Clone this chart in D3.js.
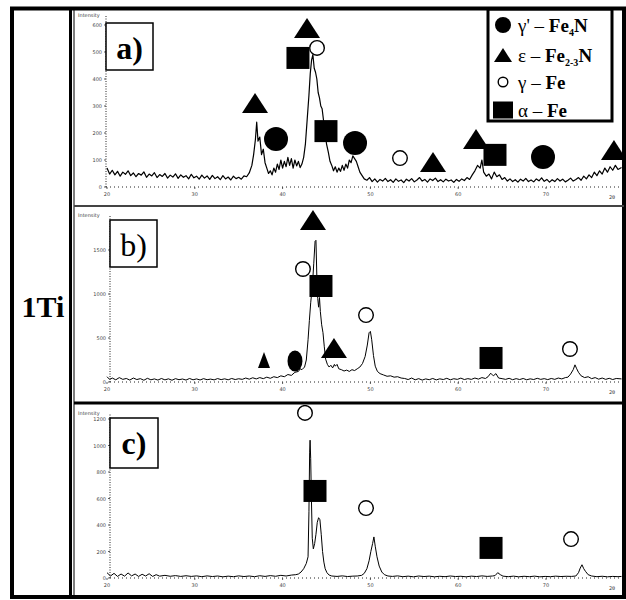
<!DOCTYPE html>
<html>
<head>
<meta charset="utf-8">
<script src="https://cdn.jsdelivr.net/npm/d3@7"></script>
<style>
  html, body { margin: 0; padding: 0; background: #fff; }
  svg { display: block; }
</style>
</head>
<body>
<svg id="chart" width="626" height="600"></svg>
<script>
// ---- axis ticks -------------------------------------------------------
const twoThetaTicks = [20, 30, 40, 50, 60, 70];
const ticksA = [0, 100, 200, 300, 400, 500, 600];
const ticksB = [0, 500, 1000, 1500];
const ticksC = [0, 200, 400, 600, 800, 1000, 1200];

// ---- diffraction patterns: [2θ (deg), intensity (counts)] -------------
const patternA = [
  [20.0,70],[20.3,48],[20.6,62],[20.9,45],[21.2,58],[21.5,40],[21.8,55],[22.1,47],[22.4,60],[22.7,42],
  [23.0,52],[23.3,38],[23.6,50],[23.9,44],[24.2,56],[24.5,36],[24.8,48],[25.1,41],[25.4,53],[25.7,35],
  [26.0,46],[26.3,39],[26.6,50],[26.9,33],[27.2,44],[27.5,37],[27.8,49],[28.1,32],[28.4,45],[28.7,36],
  [29.0,42],[29.3,30],[29.6,47],[29.9,34],[30.2,40],[30.5,29],[30.8,44],[31.1,33],[31.4,41],[31.7,28],
  [32.0,43],[32.3,31],[32.6,38],[32.9,27],[33.2,42],[33.5,30],[33.8,37],[34.1,26],[34.4,40],[34.7,31],
  [35.0,36],[35.3,29],[35.6,41],[35.9,38],[36.2,52],[36.5,80],[36.7,120],[36.9,175],[37.05,240],[37.2,170],
  [37.4,185],[37.6,120],[37.8,140],[38.0,90],[38.2,70],[38.4,50],[38.6,60],[38.8,45],[39.0,70],[39.2,55],
  [39.4,85],[39.6,65],[39.8,100],[40.0,70],[40.2,95],[40.4,75],[40.6,110],[40.8,80],[41.0,105],[41.2,70],
  [41.4,100],[41.6,78],[41.8,95],[42.0,72],[42.2,85],[42.4,110],[42.6,160],[42.8,250],[43.0,340],[43.15,420],
  [43.3,470],[43.45,490],[43.6,440],[43.75,425],[43.9,400],[44.05,350],[44.2,330],[44.35,300],[44.5,290],[44.65,250],
  [44.8,215],[45.0,160],[45.2,130],[45.4,95],[45.6,80],[45.8,60],[46.0,75],[46.2,55],[46.4,70],[46.6,58],
  [46.8,80],[47.0,62],[47.2,85],[47.4,70],[47.6,100],[47.8,90],[48.0,115],[48.2,105],[48.4,95],[48.6,75],
  [48.8,55],[49.0,45],[49.3,30],[49.6,25],[49.9,35],[50.2,20],[50.5,30],[50.8,18],[51.1,28],[51.4,22],
  [51.7,32],[52.0,20],[52.3,27],[52.6,17],[52.9,30],[53.2,21],[53.5,26],[53.8,16],[54.1,29],[54.4,22],
  [54.7,31],[55.0,19],[55.3,26],[55.6,35],[55.9,22],[56.2,28],[56.5,18],[56.8,30],[57.1,24],[57.4,33],
  [57.7,20],[58.0,27],[58.3,19],[58.6,29],[58.9,22],[59.2,26],[59.5,17],[59.8,28],[60.1,21],[60.4,30],
  [60.7,24],[61.0,35],[61.3,28],[61.6,45],[61.9,60],[62.2,80],[62.5,70],[62.7,100],[62.9,55],[63.2,40],
  [63.5,48],[63.8,30],[64.1,55],[64.4,38],[64.7,45],[65.0,28],[65.3,35],[65.6,22],[65.9,30],[66.2,20],
  [66.5,27],[66.8,18],[67.1,29],[67.4,22],[67.7,32],[68.0,20],[68.3,26],[68.6,19],[68.9,30],[69.2,23],
  [69.5,34],[69.8,21],[70.1,28],[70.4,18],[70.7,27],[71.0,20],[71.3,31],[71.6,22],[71.9,29],[72.2,19],
  [72.5,25],[72.8,33],[73.1,22],[73.4,28],[73.7,35],[74.0,25],[74.3,40],[74.6,30],[74.9,45],[75.2,35],
  [75.5,55],[75.8,42],[76.1,60],[76.4,48],[76.7,70],[77.0,55],[77.3,75],[77.6,62],[77.9,80],[78.2,65],
  [78.6,72]
];

const patternB = [
  [20.0,60],[20.3,30],[20.6,45],[21.0,25],[21.4,50],[21.8,30],[22.2,40],[22.6,22],[23.0,45],[23.4,28],
  [23.8,38],[24.2,20],[24.6,42],[25.0,25],[25.4,35],[25.8,22],[26.2,40],[26.6,24],[27.0,36],[27.4,20],
  [27.8,38],[28.2,26],[28.6,34],[29.0,22],[29.4,40],[29.8,25],[30.2,35],[30.6,23],[31.0,38],[31.4,26],
  [31.8,33],[32.2,24],[32.6,39],[33.0,27],[33.4,36],[33.8,25],[34.2,40],[34.6,28],[35.0,37],[35.4,30],
  [35.8,45],[36.2,32],[36.6,48],[37.0,35],[37.4,50],[37.8,38],[38.2,55],[38.6,42],[39.0,60],[39.4,50],
  [39.8,70],[40.2,60],[40.6,85],[41.0,75],[41.4,110],[41.8,120],[42.0,150],[42.2,140],[42.5,170],[42.7,250],
  [42.9,480],[43.05,700],[43.2,900],[43.4,1100],[43.55,1350],[43.7,1600],[43.8,1610],[43.9,1200],[44.0,950],[44.1,850],
  [44.2,960],[44.3,800],[44.45,650],[44.6,560],[44.75,400],[44.9,260],[45.1,200],[45.3,170],[45.5,190],[45.7,160],
  [45.9,200],[46.0,180],[46.2,200],[46.4,150],[46.7,140],[47.0,125],[47.3,135],[47.6,120],[47.9,140],[48.2,130],
  [48.5,150],[48.8,170],[49.1,210],[49.4,290],[49.65,420],[49.85,560],[50.0,575],[50.15,480],[50.35,300],[50.55,180],
  [50.8,120],[51.1,95],[51.5,80],[51.9,65],[52.3,70],[52.7,55],[53.1,60],[53.5,45],[53.9,40],[54.3,28],
  [54.7,45],[55.1,25],[55.5,38],[55.9,22],[56.3,35],[56.7,26],[57.1,40],[57.5,24],[57.9,36],[58.3,28],
  [58.7,42],[59.1,25],[59.5,37],[59.9,30],[60.3,44],[60.7,28],[61.1,38],[61.5,30],[61.9,45],[62.3,33],
  [62.7,50],[63.1,40],[63.4,60],[63.7,100],[64.0,70],[64.3,95],[64.6,45],[65.0,38],[65.4,30],[65.8,42],
  [66.2,26],[66.6,38],[67.0,28],[67.4,40],[67.8,25],[68.2,36],[68.6,28],[69.0,42],[69.4,30],[69.8,38],
  [70.2,27],[70.6,40],[71.0,30],[71.4,45],[71.8,35],[72.2,50],[72.5,55],[72.8,90],[73.1,140],[73.3,195],
  [73.5,150],[73.7,110],[74.0,70],[74.4,50],[74.8,60],[75.2,38],[75.6,50],[76.0,32],[76.4,45],[76.8,30],
  [77.2,42],[77.6,28],[78.0,40],[78.6,35]
];

const patternC = [
  [20.0,40],[20.4,15],[20.8,35],[21.2,12],[21.6,30],[22.0,14],[22.4,38],[22.8,16],[23.2,30],[23.6,12],
  [24.0,28],[24.4,15],[24.8,32],[25.2,12],[25.6,25],[26.0,14],[26.6,20],[27.2,13],[27.8,18],[28.4,12],
  [29.0,17],[29.6,12],[30.2,16],[30.8,10],[31.4,16],[32.0,11],[32.6,15],[33.2,9],[33.8,14],[34.4,10],
  [35.0,16],[35.6,11],[36.2,15],[36.8,10],[37.4,17],[38.0,12],[38.6,18],[39.2,13],[39.8,20],[40.4,15],
  [41.0,22],[41.5,25],[41.8,30],[42.1,45],[42.4,70],[42.7,110],[42.9,160],[43.0,500],[43.08,950],[43.13,1040],
  [43.2,900],[43.28,600],[43.38,300],[43.5,220],[43.65,260],[43.8,330],[43.95,420],[44.1,455],[44.25,440],[44.4,330],
  [44.55,200],[44.7,120],[44.85,70],[45.05,40],[45.3,22],[45.6,15],[46.2,12],[46.8,16],[47.4,11],[48.0,14],
  [48.5,15],[49.0,20],[49.3,35],[49.6,70],[49.85,130],[50.05,200],[50.25,260],[50.4,310],[50.55,240],[50.75,160],
  [51.0,90],[51.3,45],[51.6,25],[52.0,15],[52.5,12],[53.1,16],[53.7,10],[54.3,14],[54.9,9],[55.5,15],
  [56.1,11],[56.7,14],[57.3,9],[57.9,13],[58.5,10],[59.1,15],[59.7,11],[60.3,13],[60.9,9],[61.5,14],
  [62.1,11],[62.7,16],[63.3,12],[63.9,15],[64.2,18],[64.5,40],[64.8,25],[65.1,14],[65.7,10],[66.3,14],
  [66.9,9],[67.5,13],[68.1,10],[68.7,14],[69.3,9],[69.9,12],[70.5,10],[71.1,14],[71.7,11],[72.3,13],
  [72.9,12],[73.4,15],[73.7,40],[73.9,75],[74.1,100],[74.3,70],[74.5,50],[74.8,25],[75.2,15],[75.8,10],
  [76.4,13],[77.0,9],[77.6,12],[78.2,10],[78.6,12]
];

// ---- phase markers: [phase, 2θ, intensity] -----------------------------
// phases: gp = γ'-Fe4N, eps = ε-Fe2-3N, gam = γ-Fe, alp = α-Fe
const markersA = [
  ["eps",42.78,589],["alp",41.75,478],["gam",43.92,515],["eps",36.86,311],
  ["gp",39.25,178],["alp",44.94,207],["gp",48.25,163],["gam",53.37,107],
  ["eps",57.13,93],["eps",62.03,178],["alp",64.19,119],["gp",69.66,111],["eps",77.74,137]
];
const markersB = [
  ["eps",37.88,250],["gp",41.41,239],["eps",43.46,1840],["gam",42.32,1284],
  ["alp",44.37,1091],["eps",45.85,386],["gam",49.5,761],["alp",63.74,273],["gam",72.73,375]
];
const markersC = [
  ["gam",42.55,1246],["alp",43.69,657],["gam",49.5,528],["alp",63.74,227],["gam",72.85,294]
];

// ---- legend ------------------------------------------------------------
const legendPhases = ["gp", "eps", "gam", "alp"];
const sampleLabel = "1Ti";
const panelLabels = ["a)", "b)", "c)"];

// ---------------------------------------------------------------------
const svg = d3.select("#chart");
const W = 626, H = 600;
const serif = "'Liberation Serif', 'DejaVu Serif', serif";
const tiny = "'DejaVu Sans', sans-serif";

const x = d3.scaleLinear().domain([20, 70]).range([107, 546]);

const panels = [
  { data: patternA, marks: markersA, ticks: ticksA, base: 187, topY: 25, axisTop: 15,
    axisX: 106, clip: [74, 10, 548, 195], label: panelLabels[0], box: [106, 23, 47, 47],
    weight: "bold", tickY: 196, lw: 1.2, sizes: {} },
  { data: patternB, marks: markersB, ticks: ticksB, base: 382, topY: 250, axisTop: 215,
    axisX: 110, clip: [74, 207, 548, 196], label: panelLabels[1], box: [110, 220, 47, 47],
    weight: "normal", tickY: 391, lw: 1, sizes: { 0: [12, 16], 1: [15, 21] } },
  { data: patternC, marks: markersC, ticks: ticksC, base: 578, topY: 419, axisTop: 413,
    axisX: 110, clip: [74, 405, 548, 190], label: panelLabels[2], box: [110, 418, 48, 50],
    weight: "bold", tickY: 587, lw: 1, sizes: {} }
];

const defaultSize = { eps: [26, 20], alp: [23, 22], gp: [24, 24], gam: [16, 16] };

function drawMarker(g, phase, cx, cy, size) {
  const [w, h] = size;
  if (phase === "eps") {
    g.append("path")
      .attr("d", `M${cx},${cy - h / 2}L${cx + w / 2},${cy + h / 2}L${cx - w / 2},${cy + h / 2}Z`)
      .attr("fill", "#000");
  } else if (phase === "alp") {
    g.append("rect").attr("x", cx - w / 2).attr("y", cy - h / 2)
      .attr("width", w).attr("height", h).attr("fill", "#000");
  } else if (phase === "gp") {
    g.append("ellipse").attr("cx", cx).attr("cy", cy).attr("rx", w / 2).attr("ry", h / 2)
      .attr("fill", "#000");
  } else {
    g.append("ellipse").attr("cx", cx).attr("cy", cy).attr("rx", w / 2 - 0.7).attr("ry", h / 2 - 0.7)
      .attr("fill", "#fff").attr("stroke", "#000").attr("stroke-width", 1.4);
  }
}

panels.forEach((p, i) => {
  const y = d3.scaleLinear()
    .domain([0, p.ticks[p.ticks.length - 1]])
    .range([p.base, p.topY]);
  const g = svg.append("g");

  const clipId = "clip" + i;
  svg.append("clipPath").attr("id", clipId).append("rect")
    .attr("x", p.clip[0]).attr("y", p.clip[1]).attr("width", p.clip[2]).attr("height", p.clip[3]);

  // y axis: dotted line with small ticks and labels
  g.append("line").attr("x1", p.axisX).attr("x2", p.axisX)
    .attr("y1", p.base).attr("y2", p.axisTop)
    .attr("stroke", "#222").attr("stroke-width", 1).attr("stroke-dasharray", "1,1.5");
  p.ticks.forEach(t => {
    g.append("line").attr("x1", p.axisX - 2).attr("x2", p.axisX)
      .attr("y1", y(t)).attr("y2", y(t)).attr("stroke", "#333").attr("stroke-width", 0.8);
    g.append("text").attr("x", p.axisX - 4).attr("y", y(t) + 2)
      .attr("text-anchor", "end").attr("font-family", tiny).attr("font-size", 5)
      .attr("fill", "#444").text(t);
  });
  g.append("text").attr("x", 78).attr("y", p.axisTop + 2)
    .attr("font-family", tiny).attr("font-size", 5).attr("fill", "#444").text("Intensity");

  // x axis: dotted baseline, ticks and labels
  g.append("line").attr("x1", p.axisX).attr("x2", 622)
    .attr("y1", p.base).attr("y2", p.base)
    .attr("stroke", "#222").attr("stroke-width", 1).attr("stroke-dasharray", "1,3");
  twoThetaTicks.forEach(t => {
    g.append("line").attr("x1", x(t)).attr("x2", x(t))
      .attr("y1", p.base).attr("y2", p.base + 2).attr("stroke", "#333").attr("stroke-width", 0.8);
    g.append("text").attr("x", x(t)).attr("y", p.tickY)
      .attr("text-anchor", "middle").attr("font-family", tiny).attr("font-size", 5)
      .attr("fill", "#444").text(t);
  });
  g.append("text").attr("x", 612).attr("y", p.tickY + 3)
    .attr("text-anchor", "middle").attr("font-family", tiny).attr("font-size", 5)
    .attr("fill", "#444").text("2θ");

  // diffraction trace
  const line = d3.line().x(d => x(d[0])).y(d => y(d[1]));
  g.append("path").datum(p.data)
    .attr("clip-path", `url(#${clipId})`)
    .attr("d", line).attr("fill", "none").attr("stroke", "#000")
    .attr("stroke-width", p.lw).attr("stroke-linejoin", "round");

  // phase markers
  const mg = g.append("g").attr("clip-path", `url(#${clipId})`);
  p.marks.forEach((m, k) => {
    const size = p.sizes[k] || defaultSize[m[0]];
    drawMarker(mg, m[0], x(m[1]), y(m[2]), size);
  });

  // panel label box
  g.append("rect").attr("x", p.box[0]).attr("y", p.box[1])
    .attr("width", p.box[2]).attr("height", p.box[3])
    .attr("fill", "#fff").attr("stroke", "#000").attr("stroke-width", 1.5);
  g.append("text").attr("x", p.box[0] + p.box[2] / 2).attr("y", p.box[1] + 36)
    .attr("text-anchor", "middle").attr("font-family", serif).attr("font-size", 32)
    .attr("font-weight", p.weight).attr("fill", "#000").text(p.label);
});

// ---- legend --------------------------------------------------------------
const lg = svg.append("g");
lg.append("rect").attr("x", 488).attr("y", 9).attr("width", 124).attr("height", 112)
  .attr("fill", "#fff").attr("stroke", "#000").attr("stroke-width", 3);
const legendSizes = { gp: [16, 16], eps: [18, 14], gam: [11, 11], alp: [20, 17] };
const legendRows = [25, 55, 82, 110];
const legendText = {
  gp: [["γ'", "normal"], [" – ", "normal"], ["Fe", "bold"], ["4", "bold", true], ["N", "bold"]],
  eps: [["ε", "normal"], [" – ", "normal"], ["Fe", "bold"], ["2-3", "bold", true], ["N", "bold"]],
  gam: [["γ", "normal"], [" – ", "normal"], ["Fe", "bold"]],
  alp: [["α", "normal"], [" – ", "normal"], ["Fe", "bold"]]
};
legendPhases.forEach((ph, i) => {
  const cy = legendRows[i];
  drawMarker(lg, ph, 503, cy, legendSizes[ph]);
  const t = lg.append("text").attr("x", 518).attr("y", cy + 7)
    .attr("font-family", serif).attr("font-size", 19).attr("fill", "#000");
  legendText[ph].forEach(([s, w, sub]) => {
    const ts = t.append("tspan").attr("font-weight", w).text(s);
    if (sub) ts.attr("font-size", 10).attr("dy", 4);
    else if (s === "N") ts.attr("dy", -4);
  });
});

// ---- frame -----------------------------------------------------------------
const frame = svg.append("g");
frame.append("rect").attr("x", 12).attr("y", 8.5).attr("width", 612).attr("height", 588.5)
  .attr("fill", "none").attr("stroke", "#000").attr("stroke-width", 4);
frame.append("line").attr("x1", 70.5).attr("x2", 70.5).attr("y1", 8).attr("y2", 597)
  .attr("stroke", "#000").attr("stroke-width", 3);
frame.append("line").attr("x1", 74).attr("x2", 74).attr("y1", 8).attr("y2", 597)
  .attr("stroke", "#000").attr("stroke-width", 1);
frame.append("line").attr("x1", 74).attr("x2", 624).attr("y1", 206).attr("y2", 206)
  .attr("stroke", "#444").attr("stroke-width", 2);
frame.append("line").attr("x1", 74).attr("x2", 624).attr("y1", 403).attr("y2", 403)
  .attr("stroke", "#000").attr("stroke-width", 3);

svg.append("text").attr("x", 43).attr("y", 317)
  .attr("text-anchor", "middle").attr("font-family", serif).attr("font-size", 30)
  .attr("font-weight", "bold").attr("fill", "#000").text(sampleLabel);
</script>
</body>
</html>
